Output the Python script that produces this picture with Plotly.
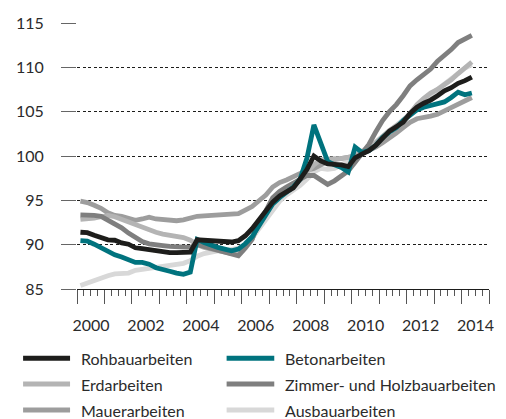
import plotly.graph_objects as go

# Quarterly data 2000Q1 .. 2014Q2 (index 2010 = 100)
years = list(range(2000, 2015))
quarters = [(y, q) for y in years for q in (1, 2, 3, 4)][:58]

rohbau = [91.4, 91.35, 91.05, 90.8, 90.55, 90.5, 90.2, 90.05, 89.65, 89.55,
          89.45, 89.25, 89.15, 89.1, 89.1, 89.1, 89.15, 90.55, 90.5, 90.45,
          90.35, 90.3, 90.3, 90.45, 91.0, 91.8, 92.8, 93.9, 94.8, 95.5,
          95.95, 96.4, 97.4, 98.5, 100.0, 99.45, 99.1, 99.05, 99.0, 98.8,
          99.8, 100.2, 100.6, 101.2, 102.0, 102.8, 103.3, 103.8, 104.8, 105.5,
          105.95, 106.3, 106.8, 107.35, 107.7, 108.2, 108.5, 108.9]
beton = [90.45, 90.4, 90.05, 89.6, 89.2, 88.85, 88.6, 88.25, 88.0, 88.0,
         87.8, 87.4, 87.15, 87.0, 86.8, 86.65, 86.9, 90.6, 90.25, 89.95,
         89.7, 89.5, 89.3, 89.5, 90.1, 90.9, 92.2, 93.5, 94.6, 95.3,
         95.9, 96.5, 97.4, 99.8, 103.5, 101.6, 99.4, 99.0, 98.7, 98.2,
         101.0, 100.4, 100.6, 101.2, 102.1, 102.7, 103.2, 104.0, 104.6, 105.2,
         105.5, 105.7, 106.0, 106.1, 106.6, 107.2, 106.9, 107.1]
erd = [92.85, 92.9, 93.0, 93.15, 93.3, 93.15, 92.85, 92.5, 92.2, 91.9,
       91.6, 91.4, 91.2, 91.1, 91.0, 90.8, 90.5, 90.0, 89.7, 89.5,
       89.3, 89.1, 89.0, 89.1, 89.7, 90.6, 92.6, 93.7, 94.7, 95.4,
       96.0, 96.6, 97.3, 98.2, 99.0, 99.6, 99.7, 99.7, 99.7, 99.8,
       100.0, 100.4, 100.9, 101.5, 102.2, 102.9, 103.4, 104.0, 104.8, 105.8,
       106.5, 107.1, 107.5, 108.0, 108.6, 109.3, 110.0, 110.6]
zimmer = [93.35, 93.35, 93.3, 93.2, 92.8, 92.3, 91.9, 91.3, 90.85, 90.35,
          90.1, 89.95, 89.9, 89.8, 89.75, 89.7, 89.7, 90.0, 89.8, 89.6,
          89.4, 89.2, 89.0, 88.75, 89.6, 90.6, 92.6, 93.8, 95.3, 96.0,
          96.5, 96.9, 97.3, 97.8, 97.8, 97.3, 96.8, 97.2, 97.8, 98.3,
          99.3, 100.2, 101.3, 102.7, 104.0, 105.0, 105.8, 106.8, 107.9, 108.6,
          109.2, 109.8, 110.7, 111.3, 112.0, 112.8, 113.2, 113.6]
mauer = [94.9, 94.75, 94.45, 94.1, 93.6, 93.3, 93.2, 93.0, 92.75, 92.9,
         93.1, 92.9, 92.8, 92.75, 92.7, 92.8, 93.0, 93.2, 93.25, 93.3,
         93.3, 93.4, 93.45, 93.5, 93.9, 94.3, 94.95, 95.6, 96.5, 97.0,
         97.3, 97.7, 98.0, 98.4, 98.6, 99.0, 99.4, 99.6, 99.7, 99.8,
         100.0, 100.3, 100.6, 101.0, 101.5, 102.0, 102.6, 103.2, 103.8, 104.2,
         104.3, 104.5, 104.7, 105.1, 105.5, 105.8, 106.2, 106.6]
ausbau = [85.4, 85.7, 85.9, 86.2, 86.5, 86.7, 86.8, 86.8, 87.1, 87.2,
          87.3, 87.4, 87.5, 87.6, 87.7, 87.9, 88.2, 88.7, 89.0, 89.2,
          89.3, 89.3, 89.4, 89.6, 90.0, 90.7, 91.8, 92.9, 94.0, 94.9,
          95.6, 96.1, 96.7, 97.4, 98.2, 98.6, 98.5, 98.6, 99.0, 99.4,
          100.0, 100.5, 101.0, 101.6, 102.2, 102.8, 103.4, 104.0, 104.7, 105.4,
          106.2, 106.9, 107.5, 108.1, 108.7, 109.3, 109.9, 110.3]

series_names = ["Rohbauarbeiten", "Betonarbeiten", "Erdarbeiten",
                "Zimmer- und Holzbauarbeiten", "Mauerarbeiten", "Ausbauarbeiten"]
series_values = [rohbau, beton, erd, zimmer, mauer, ausbau]
series_colors = ["#1d1d1b", "#00737e", "#b4b4b4", "#7f7f7f", "#9d9d9d", "#d8d8d8"]

year_ticks = list(range(2000, 2016))
year_labels = [str(y) if (y % 2 == 0 and y < 2015) else "" for y in year_ticks]
y_ticks = [85, 90, 95, 100, 105, 110, 115]

x = [y + (q - 0.5) / 4 for (y, q) in quarters]

fig = go.Figure()
draw_order = [5, 4, 2, 3, 1, 0]
for k in draw_order:
    fig.add_trace(go.Scatter(
        x=x, y=series_values[k], name=series_names[k], mode="lines",
        line=dict(color=series_colors[k], width=4.8),
        hoverinfo="skip"))

W, H = 506, 419
ML, MR, MT, MB = 77, 14, 23, 130
pw, ph = W - ML - MR, H - MT - MB

def px_x(p):
    return (p - ML) / pw

def px_y(p):
    return (H - MB - p) / ph

# manual legend (two columns, three rows)
cols = [(22.7, 70.0, 79.0), (227.7, 275.7, 284.0)]
rows = [358.3, 384.0, 410.0]
shapes = []
annotations = []
for idx, name in enumerate(series_names):
    r, c = divmod(idx, 2)
    x0, x1, xt = cols[c]
    yy = rows[r]
    shapes.append(dict(type="line", xref="paper", yref="paper",
                       x0=px_x(x0), x1=px_x(x1), y0=px_y(yy), y1=px_y(yy),
                       line=dict(color=series_colors[idx], width=5)))
    annotations.append(dict(text=name, xref="paper", yref="paper",
                            x=px_x(xt), y=px_y(yy), xanchor="left", yanchor="middle",
                            showarrow=False, font=dict(size=16, color="#2b2b2b")))

fig.update_layout(
    width=W, height=H,
    margin=dict(l=ML, r=MR, t=MT, b=MB),
    plot_bgcolor="white", paper_bgcolor="white",
    showlegend=False,
    font=dict(family="Lato", size=16, color="#2b2b2b"),
    shapes=shapes, annotations=annotations,
    xaxis=dict(range=[2000, 2015], tickmode="array", tickvals=year_ticks,
               ticktext=year_labels, ticks="outside", ticklen=14, tickwidth=1,
               tickcolor="#555555", showline=True, linecolor="#1d1d1b", linewidth=1,
               showgrid=False, zeroline=False,
               ticklabelshift=round(pw / 15 / 2), ticklabelstandoff=8,
               minor=dict(ticks="outside", ticklen=6, tickcolor="#555555",
                          dtick=0.25, tick0=2000, showgrid=False)),
    yaxis=dict(range=[85, 115], tickmode="array", tickvals=y_ticks,
               ticks="outside", ticklen=15, tickwidth=1, tickcolor="#666666",
               showgrid=True, gridcolor="#1d1d1b", griddash="3px,2.5px", gridwidth=1,
               showline=False, zeroline=False, ticklabelstandoff=14),
)

fig.write_html("out.html", config={"displayModeBar": False},
               post_script="document.body.style.margin='0px';document.body.style.overflow='hidden';")
